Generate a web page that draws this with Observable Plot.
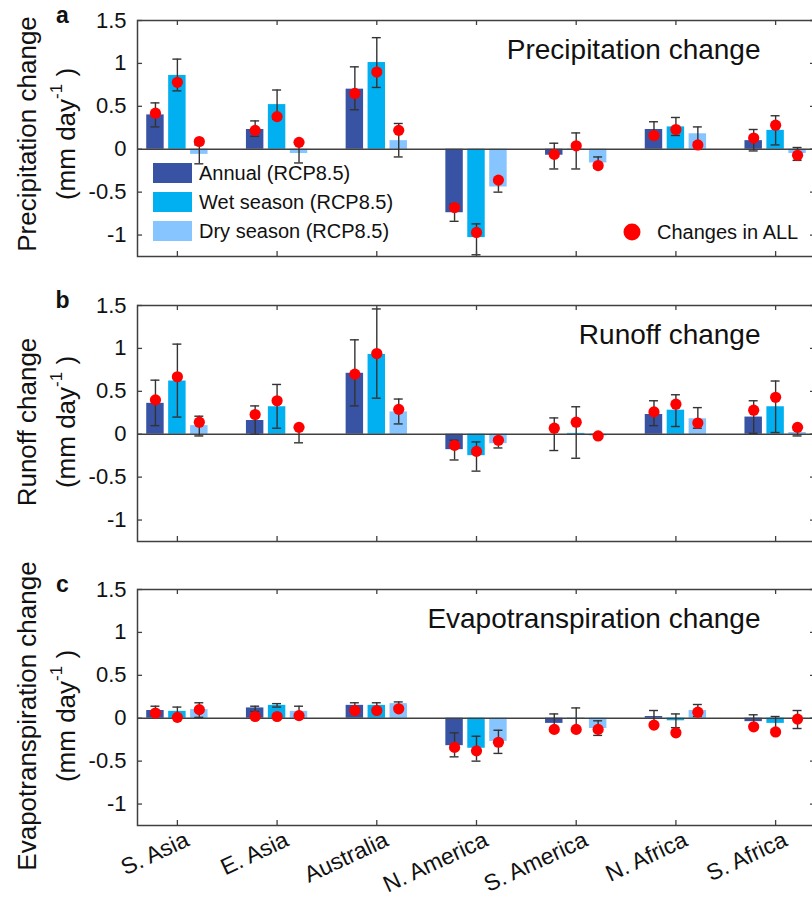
<!DOCTYPE html>
<html><head><meta charset="utf-8">
<script src="https://cdn.jsdelivr.net/npm/d3@7"></script>
<script src="https://cdn.jsdelivr.net/npm/@observablehq/plot@0.6"></script>
<style>
html,body{margin:0;padding:0;background:#fff;overflow:hidden;width:812px;height:897px;}
#chart{width:816px;}
#chart svg{display:block;max-width:none !important;overflow:visible;}
</style></head><body><div id="chart"></div>
<script>
// ---- data ----
const regions = ["S. Asia", "E. Asia", "Australia", "N. America", "S. America", "N. Africa", "S. Africa"];
const seriesNames = ["Annual (RCP8.5)", "Wet season (RCP8.5)", "Dry season (RCP8.5)"];
const seriesColors = ["#3953A4", "#00B0F0", "#86C5FF"];
const yTicks = [-1, -0.5, 0, 0.5, 1, 1.5];

// Precipitation
const precipAnnual = [0.40, 0.23, 0.70, -0.74, -0.07, 0.23, 0.10];
const precipAnnualErr = [[0.26,0.54],[0.15,0.33],[0.46,0.96],[-0.84,-0.64],[-0.23,0.07],[0.14,0.32],[-0.02,0.23]];
const precipAnnualAll = [0.42, 0.22, 0.65, -0.68, -0.06, 0.16, 0.13];
const precipWet = [0.86, 0.52, 1.01, -1.03, -0.01, 0.26, 0.22];
const precipWetErr = [[0.68,1.05],[0.35,0.69],[0.72,1.30],[-1.23,-0.87],[-0.23,0.19],[0.16,0.37],[0.05,0.39]];
const precipWetAll = [0.78, 0.38, 0.90, -0.97, 0.04, 0.23, 0.28];
const precipDry = [-0.06, -0.05, 0.10, -0.44, -0.16, 0.18, -0.05];
const precipDryErr = [[-0.17,0.05],[-0.16,0.06],[-0.09,0.30],[-0.50,-0.38],[-0.22,-0.09],[0.08,0.26],[-0.13,0.02]];
const precipDryAll = [0.09, 0.08, 0.22, -0.36, -0.19, 0.05, -0.07];

// Runoff
const runoffAnnual = [0.36, 0.16, 0.71, -0.18, 0.00, 0.23, 0.20];
const runoffAnnualErr = [[0.10,0.63],[0.00,0.33],[0.33,1.10],[-0.30,-0.07],[-0.19,0.19],[0.10,0.39],[0.01,0.39]];
const runoffAnnualAll = [0.40, 0.23, 0.70, -0.13, 0.07, 0.26, 0.28];
const runoffWet = [0.62, 0.32, 0.93, -0.25, 0.01, 0.28, 0.32];
const runoffWetErr = [[0.20,1.05],[0.07,0.58],[0.42,1.46],[-0.43,-0.09],[-0.28,0.32],[0.09,0.46],[0.02,0.62]];
const runoffWetAll = [0.67, 0.39, 0.94, -0.20, 0.14, 0.35, 0.43];
const runoffDry = [0.10, 0.00, 0.26, -0.11, -0.02, 0.18, 0.02];
const runoffDryErr = [[-0.02,0.21],[-0.10,0.10],[0.12,0.41],[-0.16,-0.05],[-0.04,0.00],[0.07,0.31],[-0.02,0.05]];
const runoffDryAll = [0.14, 0.08, 0.29, -0.07, -0.02, 0.13, 0.08];

// Evapotranspiration
const etAnnual = [0.09, 0.12, 0.15, -0.32, -0.06, 0.02, -0.04];
const etAnnualErr = [[0.03,0.14],[0.08,0.14],[0.12,0.18],[-0.45,-0.17],[-0.12,0.05],[-0.06,0.09],[-0.09,0.04]];
const etAnnualAll = [0.06, 0.02, 0.09, -0.34, -0.13, -0.08, -0.10];
const etWet = [0.08, 0.15, 0.15, -0.35, -0.01, -0.03, -0.06];
const etWetErr = [[0.02,0.13],[0.13,0.17],[0.11,0.18],[-0.50,-0.21],[-0.14,0.12],[-0.11,0.05],[-0.13,0.02]];
const etWetAll = [0.01, 0.02, 0.09, -0.38, -0.13, -0.17, -0.16];
const etDry = [0.10, 0.08, 0.17, -0.27, -0.12, 0.09, -0.01];
const etDryErr = [[0.01,0.18],[0.03,0.14],[0.13,0.19],[-0.41,-0.14],[-0.20,-0.03],[0.02,0.16],[-0.12,0.09]];
const etDryAll = [0.10, 0.03, 0.11, -0.28, -0.13, 0.07, -0.01];

// ---- layout ----
const FONT = "'Liberation Sans', Arial, Helvetica, sans-serif";
const W = 816, ML = 137, MR = 1;
const AX = "#404040";

const panels = [
  {letter: "a", title: "Precipitation change", label: "Precipitation change",
   series: [[precipAnnual, precipAnnualErr, precipAnnualAll], [precipWet, precipWetErr, precipWetAll], [precipDry, precipDryErr, precipDryAll]],
   height: 285, mt: 20, mb: 29, labelY: 134, legend: true, xlabels: false},
  {letter: "b", title: "Runoff change", label: "Runoff change",
   series: [[runoffAnnual, runoffAnnualErr, runoffAnnualAll], [runoffWet, runoffWetErr, runoffWetAll], [runoffDry, runoffDryErr, runoffDryAll]],
   height: 285, mt: 20, mb: 29, labelY: 137, legend: false, xlabels: false},
  {letter: "c", title: "Evapotranspiration change", label: "Evapotranspiration change",
   series: [[etAnnual, etAnnualErr, etAnnualAll], [etWet, etWetErr, etWetAll], [etDry, etDryErr, etDryAll]],
   height: 327, mt: 19, mb: 72, labelY: 146, legend: false, xlabels: true}
];

const container = document.getElementById("chart");

for (const cfg of panels) {
  const rows = [];
  cfg.series.forEach(([vals, errs, alls], k) => {
    regions.forEach((r, i) => rows.push({
      region: r, name: seriesNames[k], x: i + (k - 1) * 0.22,
      v: vals[i], lo: errs[i][0], hi: errs[i][1], all: alls[i]
    }));
  });
  const plotH = cfg.height - cfg.mt - cfg.mb;
  const plotW = W - ML - MR;
  const idx = regions.map((r, i) => i);

  const marks = [
    Plot.rectY(rows, {x1: d => d.x - 0.0875, x2: d => d.x + 0.0875, y1: 0, y2: "v", fill: "name"}),
    Plot.ruleY([0], {stroke: AX, strokeWidth: 1.4}),
    Plot.ruleX(rows, {x: "x", y1: "lo", y2: "hi", stroke: "#333", strokeWidth: 1.4}),
    Plot.ruleY(rows, {x1: d => d.x - 0.045, x2: d => d.x + 0.045, y: "lo", stroke: "#333", strokeWidth: 1.4}),
    Plot.ruleY(rows, {x1: d => d.x - 0.045, x2: d => d.x + 0.045, y: "hi", stroke: "#333", strokeWidth: 1.4}),
    Plot.dot(rows, {x: "x", y: "all", r: 5.6, fill: "#FF0000", stroke: null}),
    Plot.ruleY(yTicks, {insetRight: plotW - 5, stroke: AX, strokeWidth: 1.3}),
    Plot.ruleY(yTicks, {insetLeft: plotW - 5, stroke: AX, strokeWidth: 1.3}),
    Plot.ruleX(idx, {insetBottom: plotH - 5, stroke: AX, strokeWidth: 1.3}),
    Plot.ruleX(idx, {insetTop: plotH - 5, stroke: AX, strokeWidth: 1.3}),
    Plot.frame({stroke: AX, strokeWidth: 1.5}),
    Plot.axisY(yTicks, {tickSize: 0, tickPadding: 11, tickFormat: d => String(d), fontSize: 22, label: null}),
    Plot.text([cfg.title], {frameAnchor: "top-right", dx: -55, dy: 30, fontSize: 28, textAnchor: "end", lineAnchor: "middle", fill: "#111"}),
    Plot.text([cfg.letter], {frameAnchor: "top-left", dx: -75, dy: -5, fontSize: 23, fontWeight: "bold", textAnchor: "middle", lineAnchor: "middle", fill: "#111"})
  ];
  if (cfg.xlabels) {
    marks.push(Plot.text(regions, {x: (d, i) => i, frameAnchor: "bottom", dx: 10, dy: 13, rotate: -25,
      textAnchor: "end", lineAnchor: "middle", fontSize: 23, fill: "#111"}));
  }

  const plot = Plot.plot({
    width: W, height: cfg.height,
    marginLeft: ML, marginRight: MR, marginTop: cfg.mt, marginBottom: cfg.mb,
    x: {type: "linear", domain: [-0.4, 6.4], axis: null},
    y: {domain: [-1.25, 1.5]},
    color: {domain: seriesNames, range: seriesColors},
    style: {fontFamily: FONT, fontSize: "22px", color: "#111", background: "transparent", maxWidth: "none", overflow: "visible"},
    marks
  });
  container.appendChild(plot);

  const svg = d3.select(plot);
  const g = svg.append("g").attr("font-family", FONT).attr("fill", "#111");
  g.append("text")
    .attr("transform", `translate(27,${cfg.labelY}) rotate(-90)`)
    .attr("text-anchor", "middle").attr("dominant-baseline", "central")
    .attr("font-size", 26).text(cfg.label);
  const t2 = g.append("text")
    .attr("transform", `translate(66,${cfg.labelY}) rotate(-90)`)
    .attr("text-anchor", "middle").attr("dominant-baseline", "central")
    .attr("font-size", 26);
  t2.append("tspan").text("(mm day");
  t2.append("tspan").attr("font-size", 17).attr("dy", -10).text("-1");
  t2.append("tspan").attr("dy", 10).text(" )");

  if (cfg.legend) {
    const lg = svg.append("g").attr("font-family", FONT).attr("font-size", 20).attr("fill", "#111").attr("text-anchor", "start");
    seriesNames.forEach((n, k) => {
      const y = 163 + k * 29;
      lg.append("rect").attr("x", 153).attr("y", y).attr("width", 39).attr("height", 20).attr("fill", seriesColors[k]);
      lg.append("text").attr("x", 199).attr("y", y + 10).attr("text-anchor", "start").attr("dominant-baseline", "central").text(n);
    });
    lg.append("circle").attr("cx", 632).attr("cy", 232).attr("r", 8.5).attr("fill", "#FF0000");
    lg.append("text").attr("x", 657).attr("y", 232).attr("text-anchor", "start").attr("dominant-baseline", "central").text("Changes in ALL");
  }
}
</script>
</body></html>
